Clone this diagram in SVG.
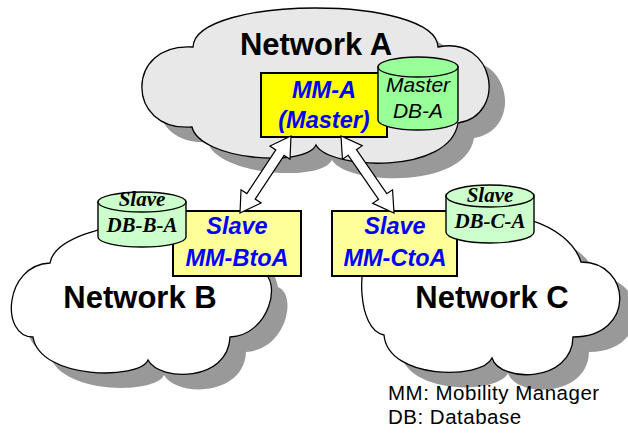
<svg xmlns="http://www.w3.org/2000/svg" xmlns:xlink="http://www.w3.org/1999/xlink" width="628" height="435" viewBox="0 0 628 435">
  <style>
    .shadow { fill: #999999; stroke: none; }
    .cloud { stroke: #000; stroke-width: 1.3; }
    .box { stroke: #000; stroke-width: 2; }
    .cyl { stroke: #000; stroke-width: 1.4; }
    .arrow { fill: #fff; stroke: #000; stroke-width: 1.2; stroke-linejoin: miter; }
    .net { font-family: "Liberation Sans", Arial, sans-serif; font-weight: bold; font-size: 31px; fill: #000; text-anchor: middle; }
    .mm { font-family: "Liberation Sans", Arial, sans-serif; font-weight: bold; font-style: italic; font-size: 23.5px; fill: #0000ff; text-anchor: middle; }
    .mdb { font-family: "Liberation Sans", Arial, sans-serif; font-style: italic; font-size: 21px; fill: #000; text-anchor: middle; }
    .sdb { font-family: "Liberation Serif", "Times New Roman", serif; font-weight: bold; font-style: italic; font-size: 21px; fill: #000; text-anchor: middle; }
    .legend { font-family: "Liberation Sans", Arial, sans-serif; font-size: 20.5px; letter-spacing: 0.5px; fill: #000; }
  </style>
  <defs>
    <path id="cloudA" d="M193,47 C195,-5 436,-5 438,47 C495,35 508,115 458,123 C450,175 330,170 316,145 C305,168 200,160 192,127 C125,132 125,42 193,47 Z"/>
    <path id="cloudB" d="M50,263 C58,215 250,200 262,272 C282,280 270,335 230,337 C228,382 160,382 148,360 C140,380 40,380 33,337 C0,337 4,265 50,263 Z"/>
    <path id="cloudC" d="M370,255 C372,215 420,212 470,222 C500,205 568,222 581,262 C632,262 636,337 573,337 C572,383 500,383 492,358 C482,380 388,380 384,335 C356,330 358,258 370,255 Z"/>
  </defs>

  <!-- drop shadows of the three networks -->
  <g id="shadows" class="shadow">
    <use xlink:href="#cloudA" transform="translate(16,15)"/>
    <use xlink:href="#cloudB" transform="translate(16,15)"/>
    <use xlink:href="#cloudC" transform="translate(16,15)"/>
  </g>

  <g id="network-a">
    <use xlink:href="#cloudA" class="cloud" fill="#e8e8e8"/>
    <text class="net" x="316" y="55">Network A</text>
  </g>
  <g id="network-b">
    <use xlink:href="#cloudB" class="cloud" fill="#ffffff"/>
    <text class="net" x="140" y="308">Network B</text>
  </g>
  <g id="network-c">
    <use xlink:href="#cloudC" class="cloud" fill="#ffffff"/>
    <text class="net" x="492" y="308">Network C</text>
  </g>

  <!-- mobility managers -->
  <g id="mm-a">
    <rect class="box" x="261" y="73" width="126" height="64" fill="#ffff00"/>
    <text class="mm" x="324" y="98">MM-A</text>
    <text class="mm" x="324" y="128">(Master)</text>
  </g>
  <g id="mm-btoa">
    <rect class="box" x="173" y="211" width="128" height="65" fill="#ffff99"/>
    <text class="mm" x="237" y="234">Slave</text>
    <text class="mm" x="237" y="266">MM-BtoA</text>
  </g>
  <g id="mm-ctoa">
    <rect class="box" x="332" y="211" width="125" height="65" fill="#ffff99"/>
    <text class="mm" x="395" y="234">Slave</text>
    <text class="mm" x="395" y="266">MM-CtoA</text>
  </g>

  <!-- databases -->
  <g id="db-a">
    <path class="cyl" fill="#99ff99" d="M378,67 V120 A40,10 0 0 0 458,120 V67 Z"/>
    <ellipse class="cyl" fill="#99ff99" cx="418" cy="67" rx="40" ry="10"/>
    <text class="mdb" x="418" y="92">Master</text>
    <text class="mdb" x="418" y="118">DB-A</text>
  </g>
  <g id="db-b-a">
    <path class="cyl" fill="#ccffcc" d="M98,202 V237 A44,10 0 0 0 186,237 V202 Z"/>
    <ellipse class="cyl" fill="#ccffcc" cx="142" cy="202" rx="44" ry="10"/>
    <text class="sdb" x="142" y="206">Slave</text>
    <text class="sdb" x="142" y="232">DB-B-A</text>
  </g>
  <g id="db-c-a">
    <path class="cyl" fill="#ccffcc" d="M446,196 V232 A44,11 0 0 0 534,232 V196 Z"/>
    <ellipse class="cyl" fill="#ccffcc" cx="490" cy="196" rx="44" ry="11"/>
    <text class="sdb" x="490" y="202">Slave</text>
    <text class="sdb" x="490" y="228">DB-C-A</text>
  </g>

  <!-- two-way links between master and slaves -->
  <g id="connectors">
    <polygon class="arrow" points="291,136 289.96,159.28 284.13,155.42 255.21,199.10 261.04,202.96 240,213 241.04,189.72 246.87,193.58 275.80,149.90 269.96,146.04"/>
    <polygon class="arrow" points="341,136 342.45,159.28 348.22,155.32 378.54,199.36 372.77,203.32 394,213 392.55,189.72 386.78,193.69 356.46,149.65 362.23,145.68"/>
  </g>

  <g id="legend">
    <text class="legend" x="388" y="400">MM: Mobility Manager</text>
    <text class="legend" x="388" y="424">DB: Database</text>
  </g>
</svg>
